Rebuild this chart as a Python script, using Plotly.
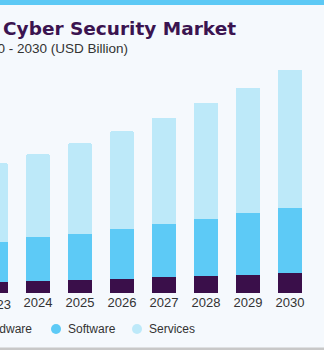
import plotly.graph_objects as go

# Market size by segment (USD Billion)
years = [2023, 2024, 2025, 2026, 2027, 2028, 2029, 2030]
hardware = [6.6, 7.2, 8.0, 8.6, 9.6, 10.2, 10.8, 12.0]
software = [24.2, 26.4, 27.6, 29.8, 31.6, 34.2, 37.0, 39.0]
services = [47.2, 49.8, 54.4, 58.8, 64.0, 69.8, 75.4, 83.0]

segments = ["Hardware", "Software", "Services"]
colors = ["#3a0f4a", "#5dcaf6", "#bde9f9"]

title_text = "Cyber Security Market"
subtitle_text = "2020 - 2030 (USD Billion)"

W, H = 324, 350
M_T, M_B = 60, 57
plot_h = H - M_T - M_B

x_range = [2023.0952, 2030.8095]
y_range = [0, 139.8]

fig = go.Figure()
for name, vals, col in zip(segments, [hardware, software, services], colors):
    fig.add_trace(go.Bar(
        x=years, y=vals, name=name, marker_color=col,
        marker_line_width=0, width=0.571, showlegend=False,
    ))

def px_x(v):
    return (v - x_range[0]) / (x_range[1] - x_range[0])

annotations = [
    dict(text=title_text, xref="paper", yref="paper", x=0, y=1,
         xanchor="left", yanchor="middle", xshift=1, yshift=M_T - 28,
         showarrow=False,
         font=dict(family="DejaVu Sans", size=18.5, color="#3b1450", weight="bold")),
    dict(text=subtitle_text, xref="paper", yref="paper", x=0, y=1,
         xanchor="right", yanchor="middle", xshift=130, yshift=M_T - 48,
         showarrow=False,
         font=dict(family="Liberation Sans, Arial", size=13.5, color="#333333")),
    # first year label sits left of the visible axis range
    dict(text=str(years[0]), xref="paper", yref="paper", x=px_x(years[0]), y=0,
         xanchor="center", yanchor="middle", yshift=-11, showarrow=False,
         font=dict(family="Liberation Sans, Arial", size=13, color="#333333")),
]

shapes = [
    # top accent band
    dict(type="rect", xref="paper", yref="paper", x0=0, x1=1,
         ysizemode="pixel", yanchor=1, y0=M_T - 5, y1=M_T,
         fillcolor="#5dc9f5", line_width=0),
    # bottom rule
    dict(type="rect", xref="paper", yref="paper", x0=0, x1=1,
         ysizemode="pixel", yanchor=0, y0=-M_B, y1=-M_B + 2.5,
         fillcolor="#c8c8c8", line_width=0),
]

# legend: circle markers with labels below the axis
legend_text_x = [-21, 67, 148]
legend_y = -36
for name, col, tx in zip(segments, colors, legend_text_x):
    cx = tx - 11
    shapes.append(dict(type="circle", xref="paper", yref="paper",
                       xsizemode="pixel", ysizemode="pixel", xanchor=0, yanchor=0,
                       x0=cx - 5, x1=cx + 5, y0=legend_y - 5, y1=legend_y + 5,
                       fillcolor=col, line_width=0))
    annotations.append(dict(text=name, xref="paper", yref="paper", x=0, y=0,
                            xanchor="left", yanchor="middle", xshift=tx - 1,
                            yshift=legend_y, showarrow=False,
                            font=dict(family="Liberation Sans, Arial", size=12,
                                      color="#333333")))

fig.update_layout(
    width=W, height=H,
    margin=dict(l=0, r=0, t=M_T, b=M_B, pad=0, autoexpand=False),
    paper_bgcolor="#f5f9fd", plot_bgcolor="#f5f9fd",
    barmode="stack", barcornerradius=2,
    showlegend=False,
    annotations=annotations, shapes=shapes,
    xaxis=dict(range=x_range, tickvals=years, ticktext=[str(y) for y in years],
               showgrid=False, zeroline=False, showline=False, ticks="",
               tickfont=dict(family="Liberation Sans, Arial", size=13, color="#333333")),
    yaxis=dict(range=y_range, visible=False),
)

fig.write_html("out.html")
